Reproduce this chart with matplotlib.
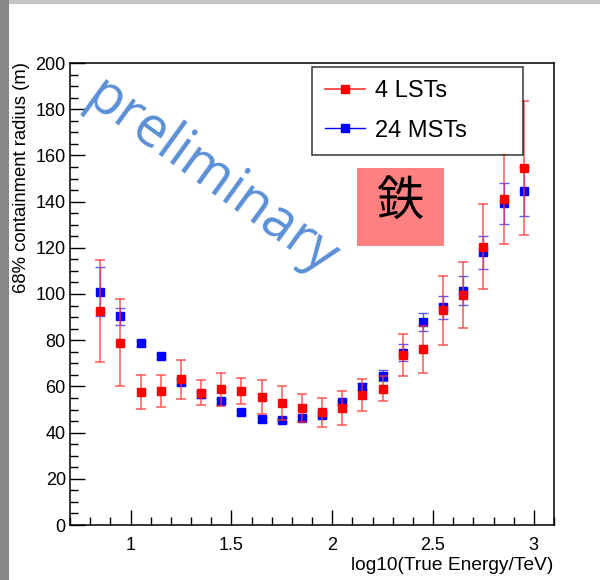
import matplotlib
matplotlib.use("Agg")
import matplotlib.pyplot as plt
from matplotlib.patches import Rectangle
from matplotlib.lines import Line2D
from matplotlib.ticker import MultipleLocator

# ---- data ----
energy = [0.85, 0.95, 1.05, 1.15, 1.25, 1.35, 1.45, 1.55, 1.65, 1.75, 1.85,
          1.95, 2.05, 2.15, 2.25, 2.35, 2.45, 2.55, 2.65, 2.75, 2.85, 2.95]
lst_radius = [92.7, 79.0, 57.6, 58.0, 63.0, 57.3, 58.7, 58.0, 55.4, 52.8, 50.7,
              48.8, 50.7, 56.3, 58.9, 73.7, 76.0, 92.9, 99.5, 120.5, 141.3, 154.5]
lst_err = [22.0, 19.0, 7.2, 7.0, 8.5, 5.5, 7.0, 5.8, 7.2, 7.5, 6.0,
           6.3, 7.4, 6.9, 5.4, 9.2, 10.0, 15.0, 14.3, 18.3, 19.5, 29.0]
mst_radius = [101.0, 90.4, 78.6, 73.0, 62.0, 56.5, 53.7, 48.8, 45.7, 45.4, 46.2,
              47.8, 53.3, 59.8, 64.7, 74.6, 87.8, 94.3, 101.5, 118.0, 139.2, 144.4]
mst_err = [10.5, 3.7, 1.0, 1.0, 1.5, 1.5, 1.0, 1.0, 1.0, 1.0, 1.0,
           1.0, 1.0, 1.5, 2.5, 3.6, 4.0, 5.0, 6.3, 7.2, 8.8, 10.6]
series_labels = ["4 LSTs", "24 MSTs"]
x_ticks = [1, 1.5, 2, 2.5, 3]
x_tick_labels = ["1", "1.5", "2", "2.5", "3"]
y_ticks = [0, 20, 40, 60, 80, 100, 120, 140, 160, 180, 200]

plt.rcParams['font.family'] = ['Liberation Sans', 'DejaVu Sans']

W, H = 600, 580
fig = plt.figure(figsize=(6.0, 5.8), dpi=100)
fig.patch.set_facecolor('white')

def fx(px):
    return px / W

def fy(py):
    return 1 - py / H

# frame decorations (gray strips)
fig.patches.append(Rectangle((0, 0), fx(9), 1, transform=fig.transFigure,
                             facecolor='#868686', edgecolor='none', zorder=0))
fig.patches.append(Rectangle((fx(9), fy(4)), 1, fy(0) - fy(4), transform=fig.transFigure,
                             facecolor='#c4c4c4', edgecolor='none', zorder=0))

ax = fig.add_axes([fx(70), fy(525), fx(554) - fx(70), fy(63) - fy(525)])
ax.set_xlim(0.7, 3.1)
ax.set_ylim(0, 200)

ax.errorbar(energy, mst_radius, yerr=mst_err, fmt='s', color='blue', ms=6.2,
            ecolor=(0.1, 0.1, 1.0, 0.7), elinewidth=1.0, capsize=3.5, capthick=1.0,
            zorder=3)
ax.errorbar(energy, lst_radius, yerr=lst_err, fmt='s', color='red', ms=6.2,
            ecolor=(1.0, 0.2, 0.2, 0.75), elinewidth=1.2, capsize=3.5, capthick=1.2,
            zorder=4)

ax.set_xticks(x_ticks)
ax.set_xticklabels(x_tick_labels)
ax.set_yticks(y_ticks)
ax.xaxis.set_minor_locator(MultipleLocator(0.1))
ax.yaxis.set_minor_locator(MultipleLocator(5))
ax.tick_params(which='both', direction='in', top=False, right=False, width=1.0, color='black')
ax.tick_params(which='major', length=10.5, labelsize=13)
ax.tick_params(which='minor', length=5.5)
ax.tick_params(axis='x', which='major', pad=9)
ax.tick_params(axis='y', which='major', pad=3)
for sp in ax.spines.values():
    sp.set_linewidth(1.1)
    sp.set_color('black')

# legend
h_lst = Line2D([], [], color=(1.0, 0.2, 0.2), lw=1.2, marker='s', ms=6.2,
               markerfacecolor='red', markeredgecolor='red')
h_mst = Line2D([], [], color='blue', lw=1.0, marker='s', ms=6.2,
               markerfacecolor='blue', markeredgecolor='blue')
lx0, lx1, ly0, ly1 = fx(312), fx(523), fy(149), fy(67)
leg = fig.legend([h_lst, h_mst], series_labels,
                 loc='upper left',
                 bbox_to_anchor=(lx0, ly0, lx1 - lx0, ly1 - ly0),
                 bbox_transform=fig.transFigure, mode='expand',
                 fontsize=17, frameon=True, fancybox=False, borderpad=0.55,
                 handlelength=1.7, handletextpad=0.4, labelspacing=0.75,
                 borderaxespad=0)
leg.get_frame().set_edgecolor('black')
leg.get_frame().set_linewidth(1.1)
leg.set_zorder(10)

# axis titles
fig.text(fx(22), fy(62), "68% containment radius (m)", rotation=90,
         ha='center', va='top', fontsize=13.3)
fig.text(fx(553), fy(565), "log10(True Energy/TeV)", ha='right', va='center',
         fontsize=13.8)

# overlay annotations
fig.text(fx(211), fy(178), "preliminary", rotation=-36, rotation_mode='anchor',
         ha='center', va='center', fontsize=40, color='#5b8fd5',
         family=['Open Sans', 'DejaVu Sans'], zorder=20)
fig.patches.append(Rectangle((fx(357), fy(246)), fx(444) - fx(357), fy(168) - fy(246),
                             transform=fig.transFigure, facecolor='#ff8080',
                             edgecolor='none', zorder=15))
fig.text(fx(400), fy(202), "鉄", ha='center', va='center', fontsize=34,
         color='black', family=['Noto Sans CJK JP', 'DejaVu Sans'], zorder=21)

fig.savefig("out.png", dpi=100, facecolor='white')
